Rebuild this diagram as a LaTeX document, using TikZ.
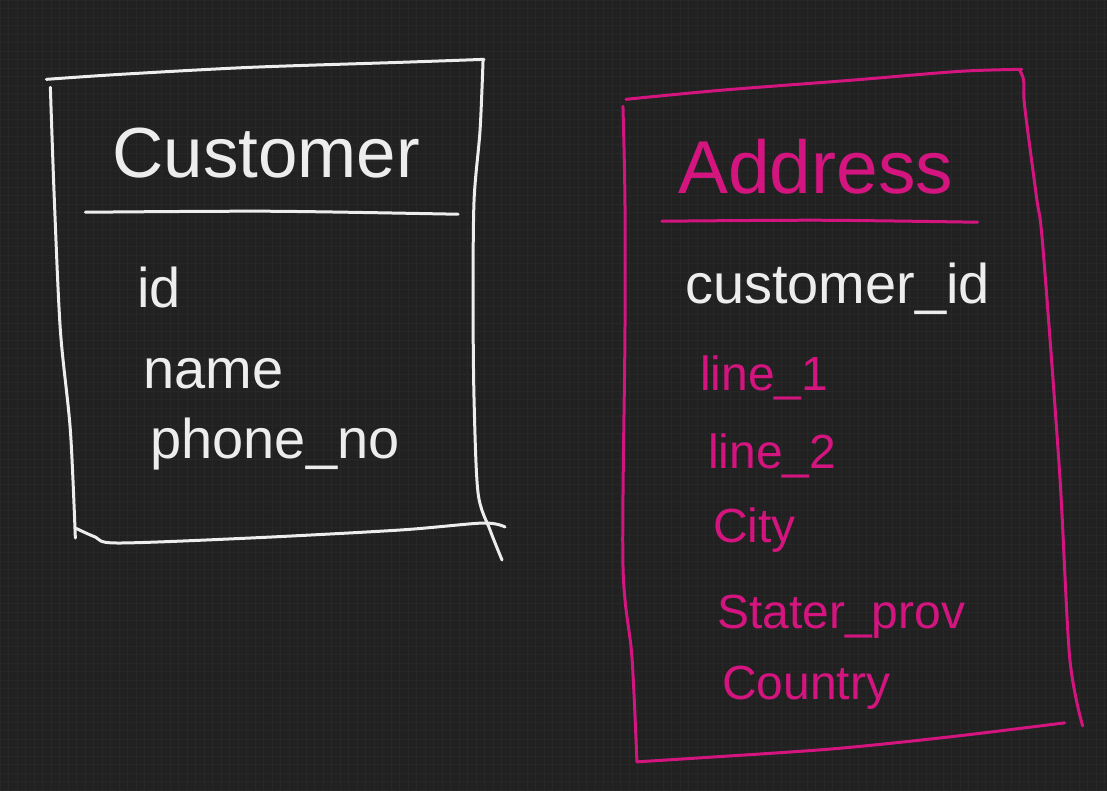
\documentclass[tikz,border=0pt]{standalone}
\usepackage{fontspec}
\setmainfont{Liberation Sans}
\definecolor{boardbg}{HTML}{212121}
\definecolor{boardgrid}{HTML}{272727}
\definecolor{chalkwhite}{HTML}{EDEDED}
\definecolor{pinkink}{HTML}{D4157F}

\begin{document}
\begin{tikzpicture}[
    x=1pt, y=-1pt,
    gridline/.style={draw=boardgrid, line width=0.8pt},
    chalk/.style={
        draw=chalkwhite,
        line width=3pt,
        line cap=round,
        line join=round
    },
    inkline/.style={chalk, draw=pinkink},
    tabletitle/.style={
        anchor=base west,
        inner sep=0pt,
        font=\fontsize{71}{80}\selectfont,
        text=chalkwhite
    },
    field/.style={
        anchor=base west,
        inner sep=0pt,
        font=\fontsize{56}{64}\selectfont,
        text=chalkwhite
    },
    pinkfield/.style={
        field,
        font=\fontsize{48}{56}\selectfont,
        text=pinkink
    }
]

% board
\fill[boardbg] (0,0) rectangle (1107,791);
\foreach \gx in {0,8.5,...,1107} \draw[gridline] (\gx,0) -- (\gx,791);
\foreach \gy in {0,8.5,...,791} \draw[gridline] (0,\gy) -- (1107,\gy);

% Customer table
\draw[chalk] plot[smooth] coordinates {(46,79) (120,74) (250,67) (400,62) (484,59)};
\draw[chalk] plot[smooth] coordinates {(50,87) (54,200) (60,330) (70,430) (75,538)};
\draw[chalk] plot[smooth] coordinates {(483,60) (480,130) (474,200) (473,300) (474,400) (478,493) (490,530) (502,560)};
\draw[chalk] plot[smooth] coordinates {(75,528) (95,537) (117,543) (250,538) (400,530) (483,523) (505,527)};
\draw[chalk] plot[smooth] coordinates {(85,212) (270,211) (458,214)};

\node[tabletitle] (customer) at (112,177) {Customer};
\node[field] (custid) at (137,307) {id};
\node[field] (custname) at (143,388) {name};
\node[field] (custphone) at (150,458) {phone\_no};

% Address table
\draw[inkline] plot[smooth] coordinates {(626,99) (720,90) (850,80) (960,71) (1022,69)};
\draw[inkline] plot[smooth] coordinates {(623,106) (625,200) (625,335) (623,565) (632,657) (637,762)};
\draw[inkline] plot[smooth] coordinates {(637,762) (700,758) (833,749) (950,737) (1065,723)};
\draw[inkline] plot[smooth] coordinates {(1020,70) (1024,80) (1025,106) (1037,198) (1043,244) (1060,473) (1070,657) (1083,726)};
\draw[inkline] plot[smooth] coordinates {(662,221) (820,220) (978,222)};

\node[tabletitle, text=pinkink, font=\fontsize{75}{84}\selectfont] (address) at (678,193) {Address};
\node[field] (addrcustid) at (685,303) {customer\_id};
\node[pinkfield] (line1) at (700,390) {line\_1};
\node[pinkfield] (line2) at (708,468) {line\_2};
\node[pinkfield] (city) at (713,542) {City};
\node[pinkfield] (stateprov) at (717,629) {Stater\_prov};
\node[pinkfield] (country) at (722,700) {Country};

\end{tikzpicture}
\end{document}
